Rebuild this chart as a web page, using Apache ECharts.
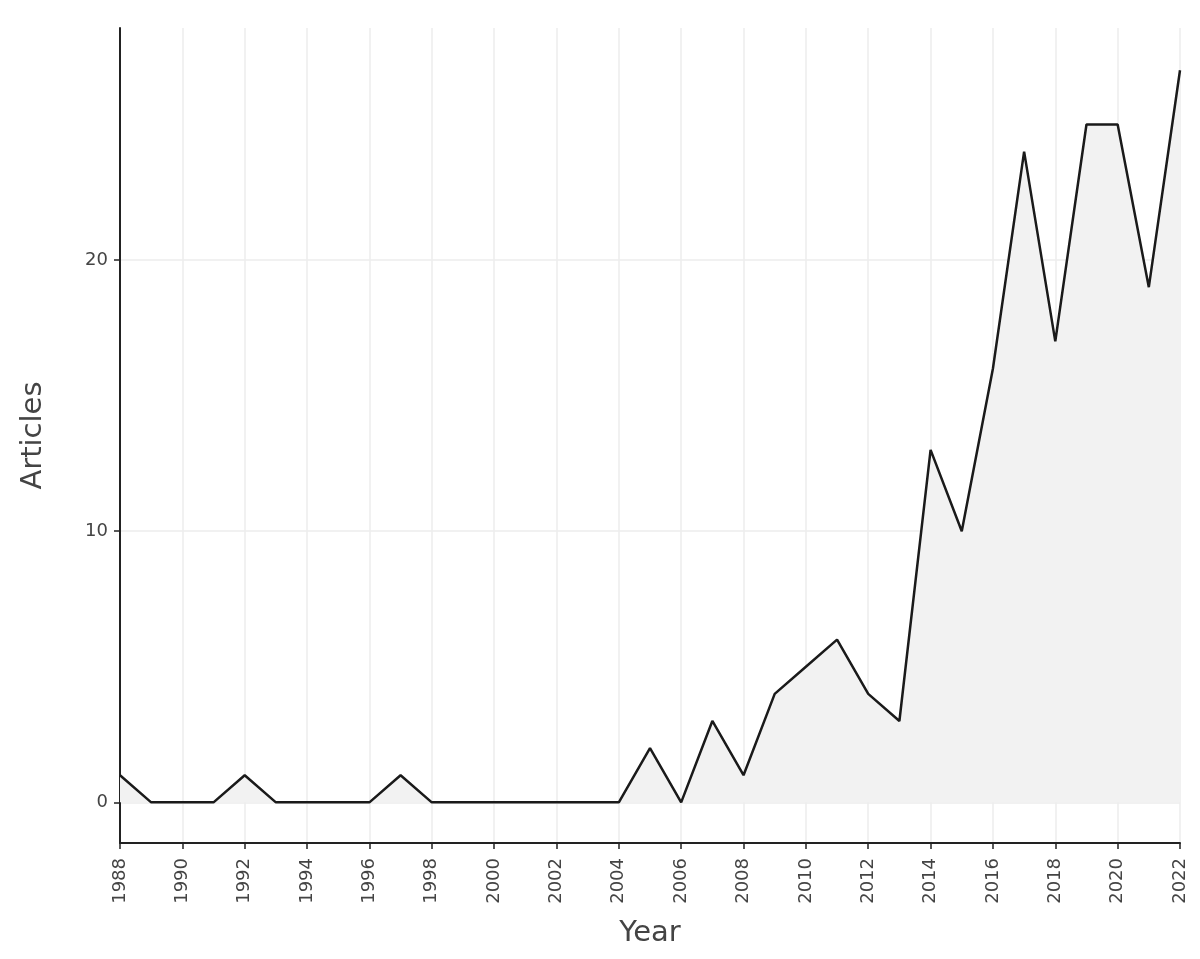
<!DOCTYPE html>
<html>
<head>
<meta charset="utf-8">
<script src="https://cdn.jsdelivr.net/npm/echarts@6/dist/echarts.min.js"></script>
<style>
  html, body { margin: 0; padding: 0; background: #fff; }
  #chart { width: 1200px; height: 959px; }
</style>
</head>
<body>
<div id="chart"></div>
<script>
var years = [1988, 1989, 1990, 1991, 1992, 1993, 1994, 1995, 1996, 1997, 1998, 1999,
             2000, 2001, 2002, 2003, 2004, 2005, 2006, 2007, 2008, 2009, 2010, 2011,
             2012, 2013, 2014, 2015, 2016, 2017, 2018, 2019, 2020, 2021, 2022];
var articles = [1, 0, 0, 0, 1, 0, 0, 0, 0, 1, 0, 0,
                0, 0, 0, 0, 0, 2, 0, 3, 1, 4, 5, 6,
                4, 3, 13, 10, 16, 24, 17, 25, 25, 19, 27];
var yTicks = [0, 10, 20];

var chart = echarts.init(document.getElementById('chart'));

var points = years.map(function(y, i){ return [y, articles[i]]; });

var option = {
    animation: false,
    backgroundColor: '#fff',
    grid: { left: 120, right: 20, top: 28, bottom: 116 },
    xAxis: {
        type: 'value',
        min: 1988,
        max: 2022,
        interval: 2,
        name: 'Year',
        nameLocation: 'middle',
        nameGap: 76,
        nameTextStyle: { fontSize: 29, color: '#444', fontFamily: 'DejaVu Sans' },
        axisLine: { show: true, onZero: false, lineStyle: { color: '#222', width: 2 } },
        axisTick: { show: true, length: 6, lineStyle: { color: '#222', width: 1.5 } },
        axisLabel: {
            rotate: 90, fontSize: 18, color: '#444', margin: 15,
            fontFamily: 'DejaVu Sans',
            formatter: function(v){ return String(v); }
        },
        splitLine: { show: true, lineStyle: { color: '#ececec', width: 1.5 } }
    },
    yAxis: {
        type: 'value',
        min: -1.5,
        max: 28.56,
        name: 'Articles',
        nameLocation: 'middle',
        nameGap: 72,
        nameTextStyle: { fontSize: 29, color: '#444', fontFamily: 'DejaVu Sans' },
        axisLine: { show: true, lineStyle: { color: '#222', width: 2 } },
        axisTick: { show: true, length: 6, customValues: yTicks, lineStyle: { color: '#222', width: 1.5 } },
        axisLabel: { fontSize: 18, color: '#444', margin: 12, customValues: yTicks, fontFamily: 'DejaVu Sans' },
        splitLine: { show: true, lineStyle: { color: '#ececec', width: 1.5 } }
    },
    series: [{
        type: 'line',
        data: points,
        showSymbol: false,
        symbol: 'none',
        lineStyle: { color: '#1a1a1a', width: 2.5 },
        areaStyle: { color: '#f2f2f2', opacity: 1, origin: 0 },
        z: 3
    }]
};

chart.setOption(option);
</script>
</body>
</html>
